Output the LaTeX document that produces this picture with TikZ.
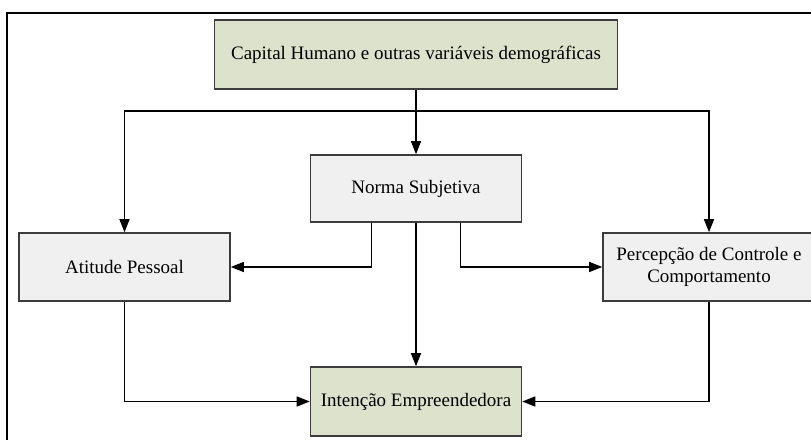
\documentclass[tikz,border=0pt]{standalone}
\usepackage{fontspec}
\setmainfont{Liberation Serif}
\usetikzlibrary{arrows.meta}
\definecolor{boxgreen}{RGB}{221,226,204}
\definecolor{boxgray}{RGB}{240,240,240}
\definecolor{boxline}{RGB}{60,60,60}

\begin{document}
\begin{tikzpicture}[%
      x=1pt, y=-1pt,
      caixa/.style={draw=boxline, line width=1.6pt, minimum width=211pt,
        minimum height=68pt, inner sep=0pt, align=center,
        font=\fontsize{19}{22}\selectfont},
      verde/.style={caixa, fill=boxgreen},
      cinza/.style={caixa, fill=boxgray},
      seta/.style={line width=1.4pt, -{Triangle[length=13pt,width=10pt]}},
      ]
      \useasboundingbox (0,0) rectangle (811,439);
      \clip (0,0) rectangle (811,439);
      \draw [line width=1.4pt] (7,13) rectangle (840,470);

      \node [verde, minimum width=403pt, minimum height=69pt] (capital) at (416,54.5)
        {Capital Humano e outras variáveis demográficas};
      \node [cinza, minimum height=67pt] (norma) at (416,188.5) {Norma Subjetiva};
      \node [cinza] (atitude) at (124.5,267) {Atitude Pessoal};
      \node [cinza, minimum width=212pt] (percep) at (709,267)
        {Percepção de Controle e\\Comportamento};
      \node [verde, minimum height=69pt] (intencao) at (416,401.5) {Intenção Empreendedora};

      \draw [seta] (capital.south) -- (norma.north);
      \draw [seta] (capital.south) -- ++(0,21) -| (atitude.north);
      \draw [seta] (capital.south) -- ++(0,21) -| (percep.north);

      \draw [seta] ([xshift=-44.5pt]norma.south) |- (atitude.east);
      \draw [seta] ([xshift=44.5pt]norma.south) |- (percep.west);
      \draw [seta] (norma.south) -- (intencao.north);

      \draw [seta] (atitude.south) |- (intencao.west);
      \draw [seta] (percep.south) |- (intencao.east);
\end{tikzpicture}
\end{document}
